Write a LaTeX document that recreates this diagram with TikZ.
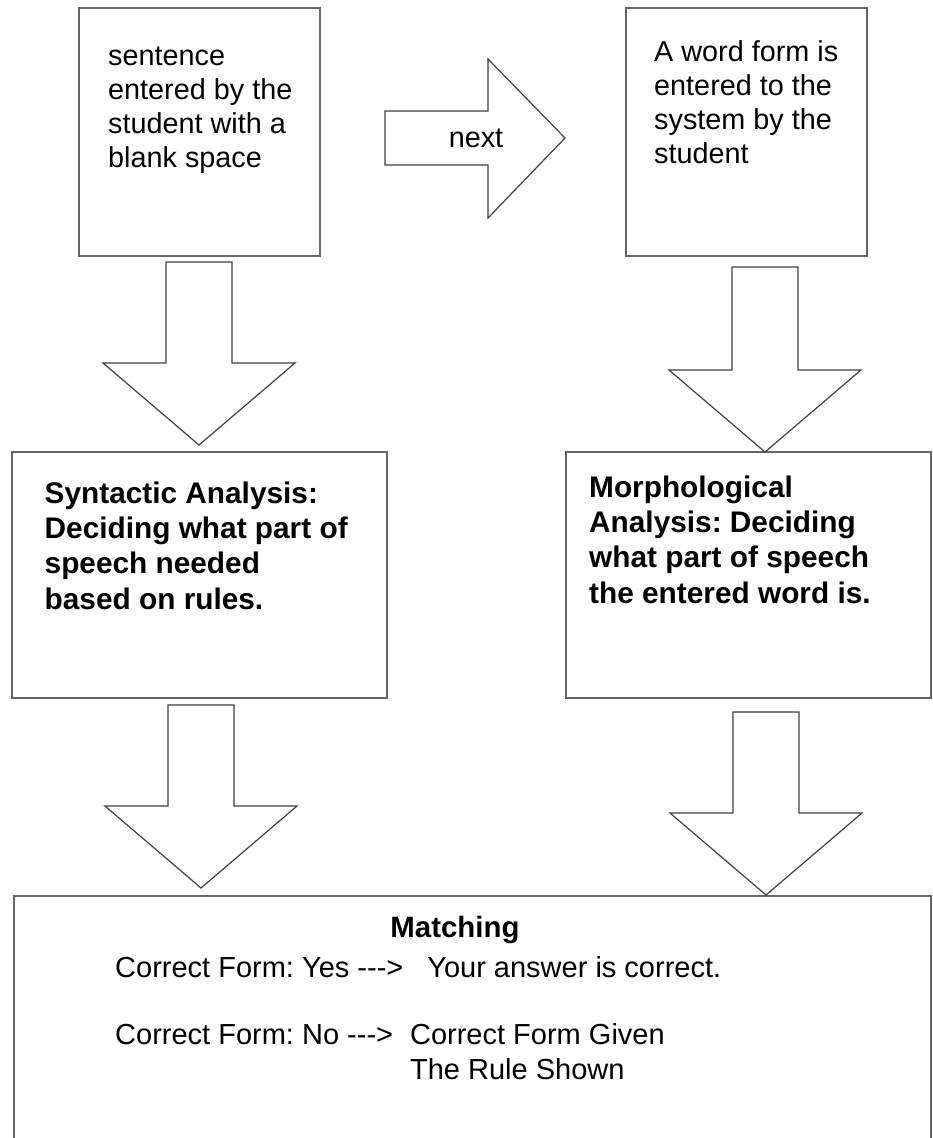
\documentclass[tikz,border=0pt]{standalone}
\usepackage{fontspec}
\setmainfont{Liberation Sans}
\usepackage{tikz}
\usetikzlibrary{
  positioning,
  calc
}
\frenchspacing
\tikzset{
  box/.style={rectangle,draw=black!60,line width=2pt,inner sep=0pt,outer sep=0pt},
  boxtext/.style={anchor=north west,inner sep=0pt,align=left,font=\fontsize{28.8}{34}\selectfont},
  boldtext/.style={anchor=north west,inner sep=0pt,align=left,font=\fontsize{29.8}{35.3}\selectfont\bfseries},
  linetext/.style={anchor=base west,inner sep=0pt,font=\fontsize{29}{35}\selectfont},
  fatarrow/.style={draw=black!75,line width=1.2pt,fill=white,line join=miter}
}
% hollow block arrow pointing down: from, to, centre x, gap at tail, gap at tip
\newcommand{\fatdown}[5]{%
  \draw[fatarrow] let \p1=(#1.south), \p2=(#2.north) in
    ({#3pt-33pt},{\y1-#4pt}) -- ({#3pt+33pt},{\y1-#4pt})
    -- ({#3pt+33pt},{\y2+#5pt+82pt}) -- ({#3pt+96pt},{\y2+#5pt+82pt})
    -- ({#3pt},{\y2+#5pt})
    -- ({#3pt-96pt},{\y2+#5pt+82pt}) -- ({#3pt-33pt},{\y2+#5pt+82pt}) -- cycle;}
\newcommand{\dashes}{\mbox{-}\mbox{-}\mbox{-}>}

\begin{document}
\begin{tikzpicture}[x=1pt, y=-1pt, node distance=443pt, on grid]
    \useasboundingbox (0,0) rectangle (932,1138);
    \fill[white] (0,0) rectangle (932,1138);

    % entry boxes
    \node[box, minimum width=241pt, minimum height=248pt] (sent) at (199.5,132) {};
    \node[box, minimum width=241pt, minimum height=248pt, right=547pt of sent] (word) {};
    % analysis boxes
    \node[box, minimum width=375pt, minimum height=246pt, below=of sent] (synt) {};
    \node[box, minimum width=365pt, minimum height=246pt, below=of word, xshift=2pt] (morph) {};
    % matching box runs off the bottom
    \node[box, minimum width=917pt, minimum height=264pt] (match) at (472.5,1028) {};

    \node[boxtext] (senttxt) at ([xshift=29pt,yshift=-33.2pt]sent.north west)
      {\strut sentence\\entered by the\\student with a\\blank space};
    \node[boxtext] (wordtxt) at ([xshift=28pt,yshift=-29.2pt]word.north west)
      {\strut A word form is\\entered to the\\system by the\\student};
    \node[boldtext] (synttxt) at ([xshift=32.5pt,yshift=-26.3pt]synt.north west)
      {\strut Syntactic Analysis:\\Deciding what part of\\speech needed\\based on rules.};
    \node[boldtext] (morphtxt) at ([xshift=23pt,yshift=-20.3pt]morph.north west)
      {\strut Morphological\\Analysis: Deciding\\what part of speech\\the entered word is.};

    % block arrows
    \draw[fatarrow] let \p1=(sent.east), \p2=(word.west) in
      ({\x1+65pt},{\y1+21pt}) -- ({\x2-138pt},{\y1+21pt}) -- ({\x2-138pt},{\y1+73pt})
      -- ({\x2-61pt},{\y1-6pt})
      -- ({\x2-138pt},{\y1-86pt}) -- ({\x2-138pt},{\y1-33pt}) -- ({\x1+65pt},{\y1-33pt}) -- cycle;
    \node[linetext, anchor=base, font=\fontsize{28.8}{34}\selectfont] (nextlbl) at (476,147) {next};

    \fatdown{sent}{synt}{199}{6}{7}
    \fatdown{synt}{match}{201}{7}{8}
    \fatdown{word}{morph}{765}{11}{0}
    \fatdown{morph}{match}{766}{14}{1}

    % matching results
    \node[linetext, anchor=base, font=\fontsize{29.4}{35}\selectfont\bfseries] (matchtitle) at (455,937) {Matching};
    \node[linetext] (yesline) at (115,977) {Correct Form: Yes \dashes\hspace{24pt}Your answer is correct.};
    \node[linetext] (noline) at (115,1044) {Correct Form: No \dashes\hspace{17pt}%
      \begin{tabular}[t]{@{}l@{}}Correct Form Given\\The Rule Shown\end{tabular}};
\end{tikzpicture}
\end{document}
